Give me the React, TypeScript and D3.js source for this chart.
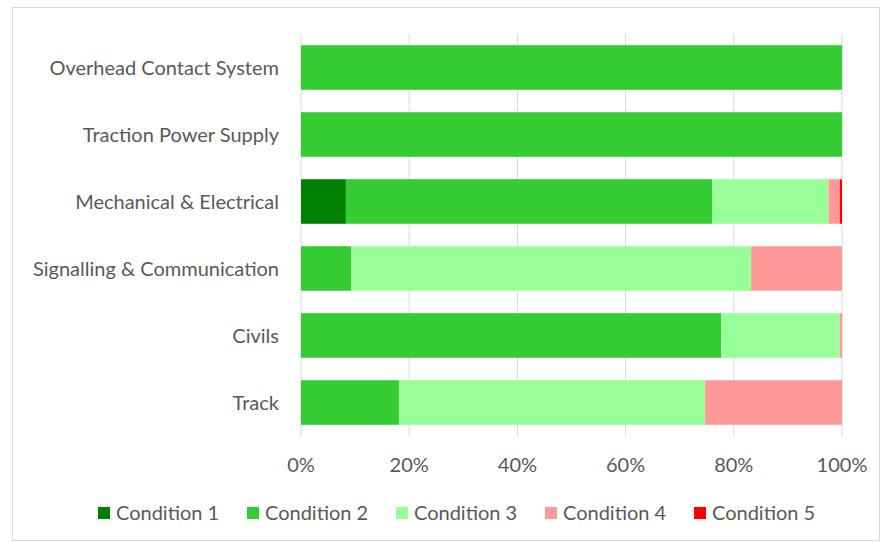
import React, { useEffect, useRef } from 'react';
import * as d3 from 'd3';

const categories = [
    'Overhead Contact System',
    'Traction Power Supply',
    'Mechanical & Electrical',
    'Signalling & Communication',
    'Civils',
    'Track'
];
const seriesNames = ['Condition 1', 'Condition 2', 'Condition 3', 'Condition 4', 'Condition 5'];
const seriesColors = ['#008000', '#33cc33', '#99ff99', '#ff9999', '#ff0000'];

// percent share per category, in category order
const condition1 = [0, 0, 8.3, 0, 0, 0];
const condition2 = [100, 100, 67.7, 9.3, 77.7, 18.1];
const condition3 = [0, 0, 21.5, 73.9, 21.9, 56.6];
const condition4 = [0, 0, 2.1, 16.8, 0.4, 25.3];
const condition5 = [0, 0, 0.4, 0, 0, 0];

const xTicks = [0, 0.2, 0.4, 0.6, 0.8, 1];

const W = 883;
const H = 543;

const App: React.FC = () => {
    const svgRef = useRef<SVGSVGElement>(null);

    useEffect(() => {
        if (!svgRef.current) return;
        const svg = d3.select(svgRef.current);
        svg.selectAll('*').remove();

        const font = 'Lato, "Open Sans", sans-serif';
        const textColor = '#595959';
        const fontSize = 20;
        const margin = { top: 34, right: 41, bottom: 107, left: 301 };

        const rows = categories.map((c, i) => {
            const vals = [condition1[i], condition2[i], condition3[i], condition4[i], condition5[i]];
            const total = d3.sum(vals);
            return { name: c, vals: vals.map(v => v / total) };
        });

        const x = d3.scaleLinear().domain([0, 1]).range([margin.left, W - margin.right]);
        const y = d3.scaleBand<string>()
            .domain(categories)
            .range([margin.top, H - margin.bottom])
            .paddingInner(0.335)
            .paddingOuter(0.1675);

        // chart border
        svg.append('rect')
            .attr('x', 12.5).attr('y', 7.5)
            .attr('width', W - 16).attr('height', H - 10)
            .attr('fill', '#fff')
            .attr('stroke', '#d9d9d9');

        // gridlines
        svg.append('g')
            .selectAll('line')
            .data(xTicks)
            .enter()
            .append('line')
            .attr('x1', d => x(d)).attr('x2', d => x(d))
            .attr('y1', margin.top).attr('y2', H - margin.bottom)
            .attr('stroke', '#d9d9d9')
            .attr('stroke-width', 1);

        // stacked bars
        const barGroup = svg.append('g');
        rows.forEach(r => {
            let acc = 0;
            r.vals.forEach((v, k) => {
                if (v > 0) {
                    barGroup.append('rect')
                        .attr('x', x(acc))
                        .attr('y', y(r.name)!)
                        .attr('width', x(acc + v) - x(acc))
                        .attr('height', y.bandwidth())
                        .attr('fill', seriesColors[k]);
                }
                acc += v;
            });
        });

        // category labels
        svg.append('g')
            .selectAll('text')
            .data(categories)
            .enter()
            .append('text')
            .attr('x', margin.left - 22)
            .attr('y', d => y(d)! + y.bandwidth() / 2)
            .attr('dy', '0.35em')
            .attr('text-anchor', 'end')
            .attr('font-family', font)
            .attr('font-size', fontSize)
            .attr('fill', textColor)
            .text(d => d);

        // x tick labels
        svg.append('g')
            .selectAll('text')
            .data(xTicks)
            .enter()
            .append('text')
            .attr('x', d => x(d))
            .attr('y', H - margin.bottom + 29)
            .attr('dy', '0.35em')
            .attr('text-anchor', 'middle')
            .attr('font-family', font)
            .attr('font-size', fontSize)
            .attr('fill', textColor)
            .text(d => d3.format('.0%')(d));

        // legend
        const legend = svg.append('g')
            .selectAll('g')
            .data(seriesNames)
            .enter()
            .append('g')
            .attr('transform', (d, i) => `translate(${98 + i * 149},507)`);
        legend.append('rect')
            .attr('width', 12).attr('height', 12)
            .attr('fill', (d, i) => seriesColors[i]);
        legend.append('text')
            .attr('x', 18)
            .attr('y', 6)
            .attr('dy', '0.35em')
            .attr('font-family', font)
            .attr('font-size', fontSize)
            .attr('fill', textColor)
            .text(d => d);
    }, []);

    return (
        <svg
            ref={svgRef}
            width={W}
            height={H}
            style={{ position: 'absolute', left: 0, top: 0, background: '#fff' }}
        />
    );
};

export default App;
